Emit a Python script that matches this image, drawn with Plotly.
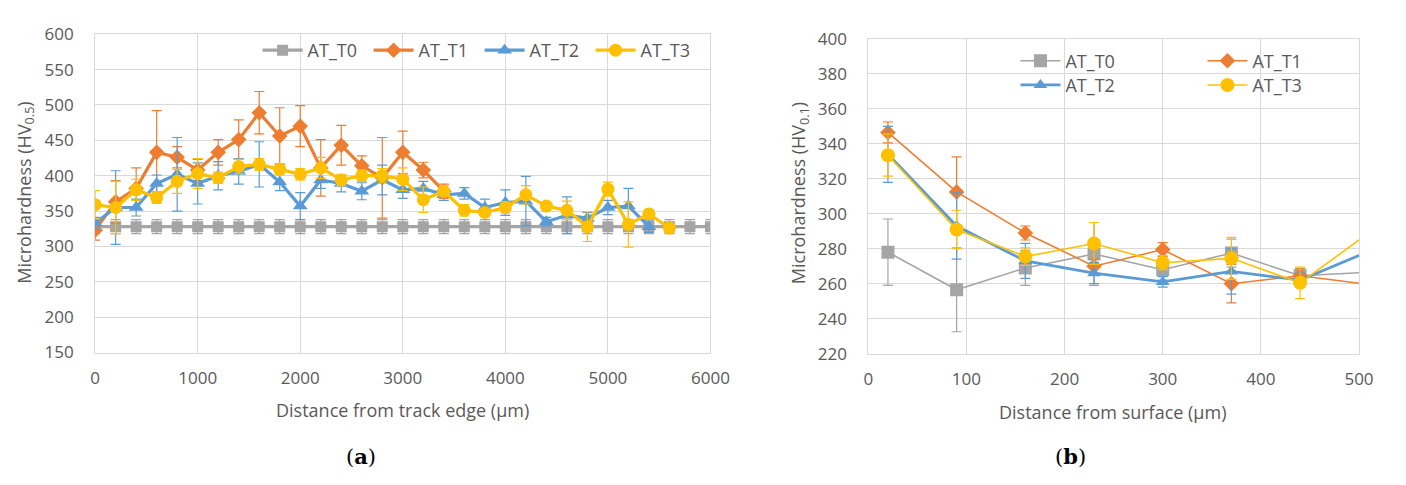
import plotly.graph_objects as go

# ---------------- data: chart (a) ----------------
dist_a_t0 = list(range(0, 6001, 200))
t0_a = [328] * len(dist_a_t0)
t0_a_err = [10] * len(dist_a_t0)

dist_a_t1 = list(range(0, 3401, 200))
t1_a = [323, 363, 382, 433, 426, 408, 433, 451, 489, 456, 470, 411, 443, 414, 397, 433, 408, 378]
t1_a_err = [14, 30, 29, 59, 15, 15, 18, 28, 30, 40, 29, 40, 28, 14, 57, 30, 11, 10]

dist_a_t2 = list(range(0, 5401, 200))
t2_a = [333, 355, 355, 389, 402, 389, 400, 406, 416, 391, 357, 394, 389, 378, 394, 380,
        382, 373, 375, 355, 362, 364, 335, 344, 340, 355, 357, 328]
t2_a_err = [8, 52, 12, 12, 52, 29, 20, 18, 32, 12, 19, 12, 12, 12, 21, 12,
            10, 8, 8, 12, 18, 35, 6, 26, 8, 10, 25, 8]

dist_a_t3 = list(range(0, 5601, 200))
t3_a = [359, 355, 380, 369, 392, 403, 397, 413, 416, 409, 402, 411, 394, 400, 400, 395,
        366, 378, 351, 348, 355, 373, 357, 351, 328, 381, 331, 346, 326]
t3_a_err = [20, 37, 15, 8, 17, 21, 8, 10, 8, 8, 8, 15, 8, 8, 10, 16,
            18, 8, 8, 6, 8, 13, 6, 13, 21, 10, 32, 6, 6]

# ---------------- data: chart (b) ----------------
dist_b = [20, 90, 160, 230, 300, 370, 440, 510]
t0_b = [278, 256.5, 269, 277, 268, 277.5, 264.5, 266.5]
t0_b_err = [19, 24, 10, 18, 6, 8, 4, 4]
t1_b = [346.5, 312.5, 289, 270, 279.5, 260, 264.5, 259.5]
t1_b_err = [6, 20, 4, 4, 4, 11, 4, 4]
t2_b = [334, 293, 273, 266, 261, 267, 262, 278.5]
t2_b_err = [16, 19, 10, 6, 3, 13, 4, 4]
t3_b = [333.5, 291, 275.5, 283, 272, 274.5, 260.5, 289]
t3_b_err = [12, 11, 5, 12, 4, 12, 9, 4]

names = ["AT_T0", "AT_T1", "AT_T2", "AT_T3"]
colors = ["#A5A5A5", "#ED7D31", "#5B9BD5", "#FFC000"]
symbols = ["square", "diamond", "triangle-up", "circle"]

TXT = "#595959"
GRID = "#D9D9D9"
FONT = "Open Sans"
CLEAR = "rgba(0,0,0,0)"

fig = go.Figure()

series_a = [(dist_a_t0, t0_a, t0_a_err), (dist_a_t1, t1_a, t1_a_err),
            (dist_a_t2, t2_a, t2_a_err), (dist_a_t3, t3_a, t3_a_err)]
msize_a = [11, 12, 13, 13]
for i, (xs, ys, es) in enumerate(series_a):
    fig.add_trace(go.Scatter(
        x=xs, y=ys, name=names[i], mode="lines+markers",
        line=dict(color=colors[i], width=3.2),
        marker=dict(symbol=symbols[i], size=msize_a[i], color=colors[i]),
        error_y=dict(type="data", array=es, visible=True, color=colors[i], thickness=1.2, width=5),
        xaxis="x", yaxis="y", legend="legend",
    ))

series_b = [(t0_b, t0_b_err), (t1_b, t1_b_err), (t2_b, t2_b_err), (t3_b, t3_b_err)]
lw_b = [1.6, 1.6, 2.8, 1.6]
msize_b = [13, 12, 12, 14]
leg_b = ["legend2", "legend2", "legend3", "legend3"]
for i, (ys, es) in enumerate(series_b):
    fig.add_trace(go.Scatter(
        x=dist_b, y=ys, name=names[i], mode="lines+markers",
        line=dict(color=colors[i], width=lw_b[i]),
        marker=dict(symbol=symbols[i], size=msize_b[i], color=colors[i]),
        error_y=dict(type="data", array=es, visible=True, color=colors[i], thickness=1.2, width=5),
        xaxis="x2", yaxis="y2", legend=leg_b[i],
    ))

W, H = 1406, 485
def px(x):
    return x / W
def py(y):
    return 1 - y / H

axis_common = dict(showgrid=True, gridcolor=GRID, gridwidth=1, showline=True, linecolor=GRID,
                   linewidth=1, mirror=True, zeroline=False, ticks="",
                   tickfont=dict(family=FONT, size=17, color=TXT))

legfont = dict(family=FONT, size=18, color=TXT)
fig.update_layout(
    width=W, height=H, autosize=False,
    margin=dict(l=0, r=0, t=0, b=0),
    paper_bgcolor="white", plot_bgcolor="white",
    font=dict(family=FONT, color=TXT),
    xaxis=dict(domain=[px(91.7), px(717.7)], range=[0, 6000], dtick=1000, anchor="y",
               ticklabelstandoff=10, **axis_common),
    yaxis=dict(domain=[py(357.5), py(23.3)], range=[150, 600], dtick=50, anchor="x",
               ticklabelstandoff=17, **axis_common),
    xaxis2=dict(domain=[px(878.3), px(1377.5)], range=[0, 500], dtick=100, anchor="y2",
                ticklabelstandoff=10, **axis_common),
    yaxis2=dict(domain=[py(358.6), py(28.3)], range=[220, 400], dtick=20, anchor="x2",
                ticklabelstandoff=17, **axis_common),
    legend=dict(orientation="h", x=px(257), y=py(21), xanchor="left", yanchor="top",
                bgcolor=CLEAR, font=legfont, entrywidth=56, itemwidth=40, traceorder="normal"),
    legend2=dict(orientation="h", x=px(1028), y=py(32), xanchor="left", yanchor="top",
                 bgcolor=CLEAR, font=legfont, entrywidth=132, itemwidth=40, traceorder="normal"),
    legend3=dict(orientation="h", x=px(1028), y=py(57.5), xanchor="left", yanchor="top",
                 bgcolor=CLEAR, font=legfont, entrywidth=132, itemwidth=40, traceorder="normal"),
    showlegend=True,
)

# white boxes behind the legends that hide the gridlines
fig.add_shape(type="rect", xref="paper", yref="paper", x0=px(250), x1=px(710), y0=py(56), y1=py(24.5),
              fillcolor="white", line=dict(width=0), layer="between")
fig.add_shape(type="rect", xref="paper", yref="paper", x0=px(990), x1=px(1367), y0=py(88), y1=py(33),
              fillcolor="white", line=dict(width=0), layer="between")

ann = []
ann.append(dict(text="Distance from track edge (µm)", x=px(404), y=py(418), xref="paper", yref="paper",
                showarrow=False, font=dict(family=FONT, size=18, color=TXT), xanchor="center", yanchor="middle"))
ann.append(dict(text="Distance from surface (µm)", x=px(1127), y=py(420), xref="paper", yref="paper",
                showarrow=False, font=dict(family=FONT, size=18, color=TXT), xanchor="center", yanchor="middle"))
ann.append(dict(text="Microhardness (HV<sub>0.5</sub>)", x=px(21), y=py(190), xref="paper", yref="paper",
                showarrow=False, textangle=-90, font=dict(family=FONT, size=18, color=TXT),
                xanchor="center", yanchor="middle"))
ann.append(dict(text="Microhardness (HV<sub>0.1</sub>)", x=px(809), y=py(190), xref="paper", yref="paper",
                showarrow=False, textangle=-90, font=dict(family=FONT, size=18, color=TXT),
                xanchor="center", yanchor="middle"))
ann.append(dict(text="(<b>a</b>)", x=px(362), y=py(467), xref="paper", yref="paper", showarrow=False,
                font=dict(family="DejaVu Serif", size=21, color="black"), xanchor="center", yanchor="middle"))
ann.append(dict(text="(<b>b</b>)", x=px(1084), y=py(467), xref="paper", yref="paper", showarrow=False,
                font=dict(family="DejaVu Serif", size=21, color="black"), xanchor="center", yanchor="middle"))
fig.update_layout(annotations=ann)

fig.write_html("out.html")
